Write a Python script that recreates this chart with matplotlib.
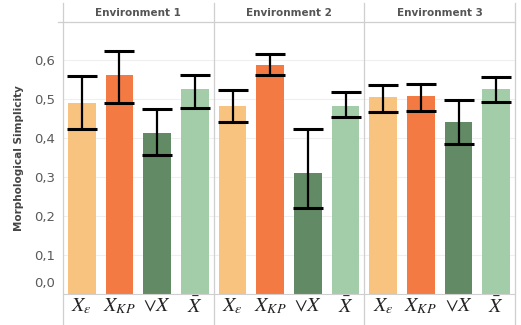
import matplotlib.pyplot as plt
from matplotlib.lines import Line2D

# Data
environments = ["Environment 1", "Environment 2", "Environment 3"]
methods = [r"$X_\epsilon$", r"$X_{KP}$", r"$\vee X$", r"$\bar{X}$"]
colors = ["#F8C27F", "#F47A44", "#628A64", "#A3CDA9"]

means = [
    [0.490, 0.560, 0.412, 0.526],
    [0.483, 0.586, 0.311, 0.483],
    [0.505, 0.507, 0.440, 0.526],
]
err_low = [
    [0.423, 0.490, 0.355, 0.476],
    [0.442, 0.560, 0.221, 0.454],
    [0.466, 0.468, 0.384, 0.492],
]
err_high = [
    [0.559, 0.622, 0.475, 0.562],
    [0.523, 0.616, 0.422, 0.517],
    [0.535, 0.538, 0.496, 0.557],
]
yticks = [0.0, 0.1, 0.2, 0.3, 0.4, 0.5, 0.6]

plt.rcParams["mathtext.fontset"] = "stix"

W, H = 521, 325
fig = plt.figure(figsize=(W / 100, H / 100), dpi=100)

left_px, right_px = 63, 515
top_px, bottom_px = 22, 294
panel_w = (right_px - left_px) / len(environments)

grid_col = "#EFEFEF"
line_col = "#CFCFCF"
tick_col = "#5A5A5A"

axes = []
for i, env in enumerate(environments):
    x0 = left_px + i * panel_w
    ax = fig.add_axes([x0 / W, (H - bottom_px) / H, panel_w / W,
                       (bottom_px - top_px) / H])
    axes.append(ax)
    xs = list(range(len(methods)))
    ax.bar(xs, means[i], width=0.74, color=colors, zorder=2)
    lo = [m - l for m, l in zip(means[i], err_low[i])]
    hi = [h - m for m, h in zip(means[i], err_high[i])]
    ax.errorbar(xs, means[i], yerr=[lo, hi], fmt="none", ecolor="black",
                elinewidth=1.6, capsize=10.5, capthick=2.2, zorder=3)
    ax.set_xlim(-0.5, 3.5)
    ax.set_ylim(0, 0.697)
    ax.set_yticks(yticks)
    ax.yaxis.grid(True, color=grid_col, linewidth=0.8, zorder=0)
    ax.set_axisbelow(True)
    for s in ["top", "right", "left"]:
        ax.spines[s].set_visible(False)
    ax.spines["bottom"].set_color(line_col)
    ax.set_xticks(xs)
    ax.set_xticklabels(methods, fontsize=14.5, color="#222222")
    ax.tick_params(axis="x", length=0, pad=2)
    if i == 0:
        labels = [f"{t:.1f}".replace(".", ",") for t in yticks]
        # the zero label sits above the baseline, as in the reference
        ax.set_yticklabels([""] + labels[1:], fontsize=9.5, color=tick_col)
        ax.tick_params(axis="y", length=0, pad=6)
        ax.annotate(labels[0], xy=(0, 0), xycoords=ax.get_yaxis_transform(),
                    xytext=(-6, 3), textcoords="offset points", ha="right",
                    va="bottom", fontsize=9.5, color=tick_col)
        ax.set_ylabel("Morphological Simplicity", fontsize=7.5,
                      fontweight="bold", color="#444444", labelpad=7)
    else:
        ax.tick_params(axis="y", length=0, labelleft=False)
    fig.text((x0 + panel_w / 2) / W, (H - 13) / H, env, ha="center",
             va="center", fontsize=7.5, fontweight="bold", color="#555555")

# panel frames and header line
for k in range(len(environments) + 1):
    xp = (left_px + k * panel_w) / W
    fig.add_artist(Line2D([xp, xp], [0, (H - 3) / H], color=line_col,
                          linewidth=0.9))
fig.add_artist(Line2D([58 / W, right_px / W], [(H - top_px) / H] * 2,
                      color=line_col, linewidth=0.9))

fig.savefig("out.png", dpi=100)
